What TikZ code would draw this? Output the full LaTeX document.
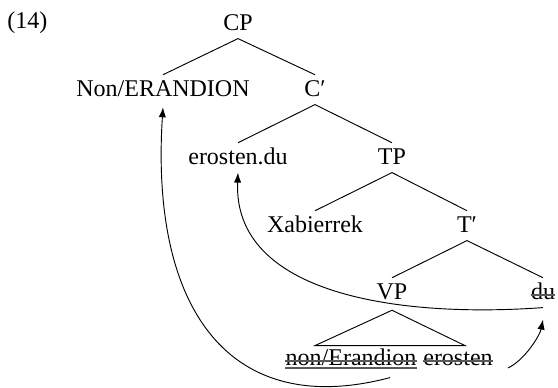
\documentclass[tikz,border=0pt]{standalone}
\usepackage{fontspec}
\setmainfont{Liberation Serif}
\usetikzlibrary{arrows.meta,calc}
\begin{document}
\begin{tikzpicture}[x=0.75pt,y=-0.75pt,
  every node/.style={font=\fontsize{18}{20}\selectfont},
  tn/.style={anchor=base,inner xsep=0pt,inner ysep=5.5pt,text height=11pt,text depth=0pt},
  edge/.style={line width=0.7pt},
  mv/.style={line width=0.7pt,-{Latex[length=7.5pt,width=5.5pt]}},
  strike/.style={line width=0.85pt,black!65}]
\useasboundingbox (0,0) rectangle (558,388);
\node[anchor=base west,inner sep=0pt] (ex) at (7,29) {(14)};
\node[tn] (CP) at (238,31) {CP};
\node[tn] (NonE) at (163,97) {Non/ERANDION};
\node[tn] (Cbar) at (315,97) {C′};
\node[tn] (erdu) at (238,165) {erosten.du};
\node[tn] (TP) at (392,165) {TP};
\node[tn] (Xab) at (315,233) {Xabierrek};
\node[tn] (Tbar) at (467,233) {T′};
\node[tn] (VP) at (392,300) {VP};
\node[tn] (du) at (543,300) {du};
\node[tn] (ne) at (351,366) {non/Erandion};
\node[tn] (er) at (458,366) {erosten};
% tree edges
\draw[edge] (CP.south) -- (NonE.north);
\draw[edge] (CP.south) -- (Cbar.north);
\draw[edge] (Cbar.south) -- (erdu.north);
\draw[edge] (Cbar.south) -- (TP.north);
\draw[edge] (TP.south) -- (Xab.north);
\draw[edge] (TP.south) -- (Tbar.north);
\draw[edge] (Tbar.south) -- (VP.north);
\draw[edge] (Tbar.south) -- (du.north);
\draw[edge] ([yshift=-2pt]VP.south) -- ($(VP.south)+(-77,38)$) -- ($(VP.south)+(73,38)$) -- cycle;
% strikes and underline
\draw[strike] ($(du.base west)+(0,-5)$) -- ($(du.base east)+(0,-5)$);
\draw[strike] ($(ne.base west)+(0,-5)$) -- ($(ne.base east)+(0,-5)$);
\draw[strike] ($(ne.base west)+(0,2)$) -- ($(ne.base east)+(0,2)$);
\draw[strike] ($(er.base west)+(0,-5)$) -- ($(er.base east)+(0,-5)$);
% movement arrows
\coordinate (s1) at ($(ne.south)+(39,4)$);
\draw[mv] (s1) .. controls (230,420) and (150,310) .. ([yshift=-2pt]NonE.south);
\draw[mv] (du.south) .. controls (400,318) and (233,295) .. (erdu.south);
\coordinate (s3) at ($(er.base east)+(15,2)$);
\draw[mv] (s3) .. controls (525,360) and (540,335) .. ([yshift=-9pt]du.south);
\end{tikzpicture}
\end{document}
